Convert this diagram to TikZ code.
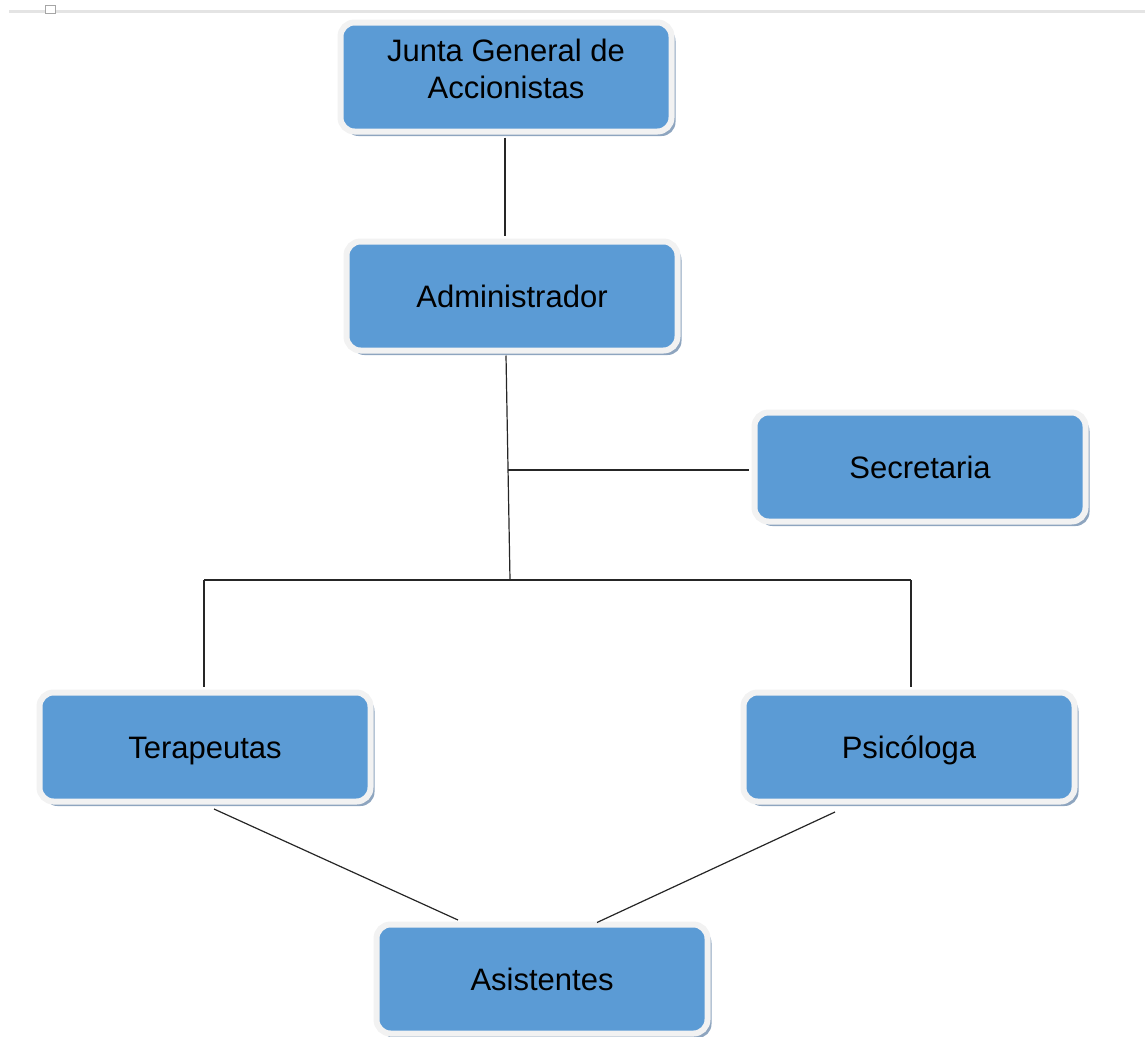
\documentclass[tikz,border=0pt]{standalone}
\usepackage{fontspec}
\setmainfont{Liberation Sans}
\usetikzlibrary{shadows}
\definecolor{boxblue}{HTML}{5B9BD5}
\definecolor{rimgray}{HTML}{F2F2F2}
\definecolor{shadowcol}{HTML}{8EA5BF}
\definecolor{topline}{HTML}{E4E4E4}
\tikzset{
  orgbox/.style={rectangle, rounded corners=14pt, fill=boxblue, draw=rimgray,
    line width=6pt, minimum width=331pt, minimum height=109pt, inner sep=0pt,
    align=center, font=\fontsize{31}{37}\selectfont, text=black,
    drop shadow={shadow xshift=4pt, shadow yshift=-4.5pt, fill=shadowcol, opacity=1}},
  oneline/.style={orgbox, text height=25pt, text depth=3pt},
  link/.style={line width=1.2pt, draw=black!85}
}
\begin{document}
\begin{tikzpicture}[x=1pt,y=-1pt]
\useasboundingbox (0,0) rectangle (1145,1036);
% top ruler line and small marker
\draw[topline, line width=3pt] (9,11.5) -- (1145,11.5);
\draw[gray!70, line width=0.8pt, fill=white] (45,5) rectangle (55,13.5);

\node[orgbox] (junta) at (506,77) {\raisebox{-1.5pt}[0pt][0pt]{\begin{tabular}{@{}c@{}}Junta General de\\Accionistas\end{tabular}}};
\node[oneline] (admin) at (512,296) {Administrador};
\node[oneline] (sec) at (920,467) {Secretaria};
\node[oneline] (tera) at (205,747) {Terapeutas};
\node[oneline] (psi) at (909,747) {Psicóloga};
\node[oneline] (asis) at (542,979) {Asistentes};

\coordinate (jsec) at (508,470);
\coordinate (bus) at (510,580);
\coordinate (busL) at (204,580);
\coordinate (busR) at (911,580);

\draw[link] ([xshift=-1pt,yshift=-3pt]junta.south) -- ([xshift=-1pt,yshift=3pt]junta.south |- admin.north);
\draw[link] ([xshift=-6pt,yshift=-2pt]admin.south) -- (bus);
\draw[link] (jsec) -- ([xshift=-3pt]sec.west |- jsec);
\draw[link] (busL) -- (busR);
\draw[link] (busL) -- ([yshift=3pt]busL |- tera.north);
\draw[link] (busR) -- ([yshift=3pt]busR |- psi.north);
\draw[link] ([xshift=9pt,yshift=-4.5pt]tera.south) -- ([xshift=-84pt,yshift=1.5pt]asis.north);
\draw[link] ([xshift=-74pt,yshift=-7.5pt]psi.south) -- ([xshift=55pt,yshift=-1pt]asis.north);
\end{tikzpicture}
\end{document}
